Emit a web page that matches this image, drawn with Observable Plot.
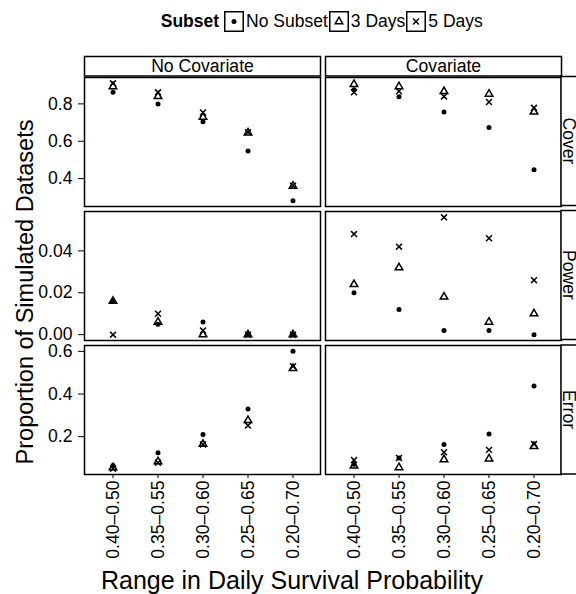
<!DOCTYPE html>
<html><head><meta charset="utf-8">
<script src="https://cdn.jsdelivr.net/npm/d3@7"></script>
<script src="https://cdn.jsdelivr.net/npm/@observablehq/plot@0.6"></script>
<style>
html,body{margin:0;padding:0;background:#fff;}
body{width:576px;height:594px;overflow:hidden;position:relative;font-family:"Liberation Sans",Arial,Helvetica,sans-serif;color:#000;}
#chart{position:absolute;left:0;top:0;width:576px;height:594px;}
#chart > *{position:absolute;left:0;}
</style></head><body><div id="chart"></div>
<script>
// ---- data ----
const ranges = ["0.40–0.50","0.35–0.55","0.30–0.60","0.25–0.65","0.20–0.70"];
const covariates = ["No Covariate","Covariate"];
const subsets = ["No Subset","3 Days","5 Days"];
const metrics = ["Cover","Power","Error"];

const coverNoCovNone = [0.862, 0.800, 0.704, 0.548, 0.282];
const coverNoCov3    = [0.893, 0.840, 0.729, 0.645, 0.360];
const coverNoCov5    = [0.910, 0.862, 0.754, 0.648, 0.362];
const coverCovNone   = [0.876, 0.838, 0.756, 0.674, 0.447];
const coverCov3      = [0.905, 0.893, 0.867, 0.853, 0.757];
const coverCov5      = [0.862, 0.868, 0.840, 0.810, 0.779];

const powerNoCovNone = [0.016, 0.005, 0.006, 0.000, 0.000];
const powerNoCov3    = [0.016, 0.006, 0.000, 0.000, 0.000];
const powerNoCov5    = [0.000, 0.010, 0.002, 0.000, 0.000];
const powerCovNone   = [0.020, 0.012, 0.002, 0.002, 0.000];
const powerCov3      = [0.024, 0.032, 0.018, 0.006, 0.010];
const powerCov5      = [0.048, 0.042, 0.056, 0.046, 0.026];

const errorNoCovNone = [0.065, 0.124, 0.210, 0.330, 0.600];
const errorNoCov3    = [0.055, 0.083, 0.165, 0.276, 0.520];
const errorNoCov5    = [0.050, 0.078, 0.163, 0.252, 0.530];
const errorCovNone   = [0.070, 0.100, 0.163, 0.213, 0.437];
const errorCov3      = [0.063, 0.055, 0.093, 0.096, 0.155];
const errorCov5      = [0.090, 0.100, 0.127, 0.138, 0.165];

const coverTicks = [0.4, 0.6, 0.8];
const powerTicks = [0.00, 0.02, 0.04];
const errorTicks = [0.2, 0.4, 0.6];

const series = [
  ["Cover","No Covariate","No Subset",coverNoCovNone],["Cover","No Covariate","3 Days",coverNoCov3],["Cover","No Covariate","5 Days",coverNoCov5],
  ["Cover","Covariate","No Subset",coverCovNone],["Cover","Covariate","3 Days",coverCov3],["Cover","Covariate","5 Days",coverCov5],
  ["Power","No Covariate","No Subset",powerNoCovNone],["Power","No Covariate","3 Days",powerNoCov3],["Power","No Covariate","5 Days",powerNoCov5],
  ["Power","Covariate","No Subset",powerCovNone],["Power","Covariate","3 Days",powerCov3],["Power","Covariate","5 Days",powerCov5],
  ["Error","No Covariate","No Subset",errorNoCovNone],["Error","No Covariate","3 Days",errorNoCov3],["Error","No Covariate","5 Days",errorNoCov5],
  ["Error","Covariate","No Subset",errorCovNone],["Error","Covariate","3 Days",errorCov3],["Error","Covariate","5 Days",errorCov5]
];
const data = series.flatMap(([metric, cov, subset, vals]) =>
  vals.map((value, i) => ({metric, cov, subset, range: ranges[i], value})));

// ---- layout ----
const FONT = '"Liberation Sans", Arial, Helvetica, sans-serif';
const W = 576, ML = 83.5, MR = 15;
const panelH = 129;
const panelTop = {Cover: 76.5, Power: 210.5, Error: 345};
const chart = document.getElementById("chart");
const baseStyle = {background: "transparent", overflow: "visible", fontFamily: FONT, fontSize: "17.6px", color: "black"};
const fxOpts = {domain: covariates, paddingInner: 0.019, paddingOuter: 0, axis: null, label: null};
const symbolFor = {"No Subset": "circle", "3 Days": "triangle", "5 Days": "times"};

function rowPlot(metric, ticks, fmt, showX) {
  const rows = data.filter(d => d.metric === metric);
  const ext = d3.extent(rows, d => d.value);
  const pad = (ext[1] - ext[0]) * 0.05;
  const mt = 3, mb = showX ? 110 : 3;
  const p = Plot.plot({
    width: W, height: mt + panelH + mb,
    marginLeft: ML, marginRight: MR, marginTop: mt, marginBottom: mb,
    style: baseStyle,
    fx: fxOpts,
    x: {type: "point", domain: ranges, padding: 0.6, label: null, axis: showX ? undefined : null},
    y: {domain: [ext[0] - pad, ext[1] + pad], label: null},
    symbol: {domain: subsets, range: subsets.map(s => symbolFor[s])},
    marks: [
      Plot.frame({stroke: "black", strokeWidth: 1.5}),
      Plot.axisY({ticks, tickFormat: d3.format(fmt), tickSize: 6, tickPadding: 6, fontSize: 17.6, label: null}),
      showX ? Plot.axisX({tickRotate: -90, tickSize: 4, tickPadding: 2, fontSize: 17.6, label: null}) : null,
      Plot.dot(rows.filter(d => d.subset === "No Subset"), {fx: "cov", x: "range", y: "value", fill: "black", r: 2.5}),
      Plot.dot(rows.filter(d => d.subset !== "No Subset"), {fx: "cov", x: "range", y: "value", symbol: "subset", stroke: "black", fill: "none", strokeWidth: 1.5, r: 2.8})
    ]
  });
  p.style.top = (panelTop[metric] - mt) + "px";
  chart.appendChild(p);
}

// strip header
const header = Plot.plot({
  width: W, height: 23.5, marginLeft: ML, marginRight: MR, marginTop: 2, marginBottom: 2,
  style: baseStyle,
  fx: fxOpts,
  marks: [
    Plot.frame({stroke: "black", strokeWidth: 1.5}),
    Plot.text(covariates, {fx: d => d, text: d => d, frameAnchor: "middle", fontSize: 17.6, fill: "black"})
  ]
});
header.style.top = "54px";
chart.appendChild(header);

rowPlot("Cover", coverTicks, ".1f", false);
rowPlot("Power", powerTicks, ".2f", false);
rowPlot("Error", errorTicks, ".1f", true);

// overlay: right strips and axis titles
const svg = d3.create("svg").attr("width", W).attr("height", 594)
  .style("top", "0px").style("overflow", "hidden").style("font-family", FONT);
for (const m of metrics) {
  svg.append("rect").attr("x", 561).attr("y", panelTop[m]).attr("width", 26).attr("height", panelH)
    .attr("fill", "white").attr("stroke", "black").attr("stroke-width", 1.5);
  svg.append("text").attr("transform", `translate(569.5,${panelTop[m] + panelH / 2}) rotate(90)`)
    .attr("text-anchor", "middle").attr("dy", "0.35em").attr("font-size", 17.6).text(m);
}
svg.append("text").attr("transform", `translate(25,292) rotate(-90)`)
  .attr("text-anchor", "middle").attr("dy", "0.35em").attr("font-size", 23.5).text("Proportion of Simulated Datasets");
svg.append("text").attr("x", 292).attr("y", 589)
  .attr("text-anchor", "middle").attr("font-size", 25).text("Range in Daily Survival Probability");
chart.appendChild(svg.node());

// legend
const legend = d3.create("div").style("top", "11px").style("width", (2 * (ML + W - MR) / 2) + "px")
  .style("display", "flex").style("justify-content", "center").style("align-items", "center")
  .style("font-size", "17.5px").style("height", "21px").style("font-family", FONT);
legend.append("b").style("margin-right", "5px").text("Subset");
for (const s of subsets) {
  const k = legend.append("svg").attr("width", 20).attr("height", 21).style("display", "block");
  k.append("rect").attr("x", 0.75).attr("y", 0.75).attr("width", 18.5).attr("height", 19.5)
    .attr("fill", "white").attr("stroke", "black").attr("stroke-width", 1.5);
  const isCircle = s === "No Subset";
  const r = isCircle ? 2.5 : 2.8;
  const type = {circle: d3.symbolCircle, triangle: d3.symbolTriangle, times: d3.symbolTimes}[symbolFor[s]];
  k.append("path").attr("transform", "translate(10,10.5)")
    .attr("d", d3.symbol(type, r * r * Math.PI)())
    .attr("fill", isCircle ? "black" : "none").attr("stroke", isCircle ? "none" : "black").attr("stroke-width", 1.5);
  legend.append("span").style("margin", "0 1px 0 2px").text(s);
}
chart.appendChild(legend.node());
</script>
</body></html>
